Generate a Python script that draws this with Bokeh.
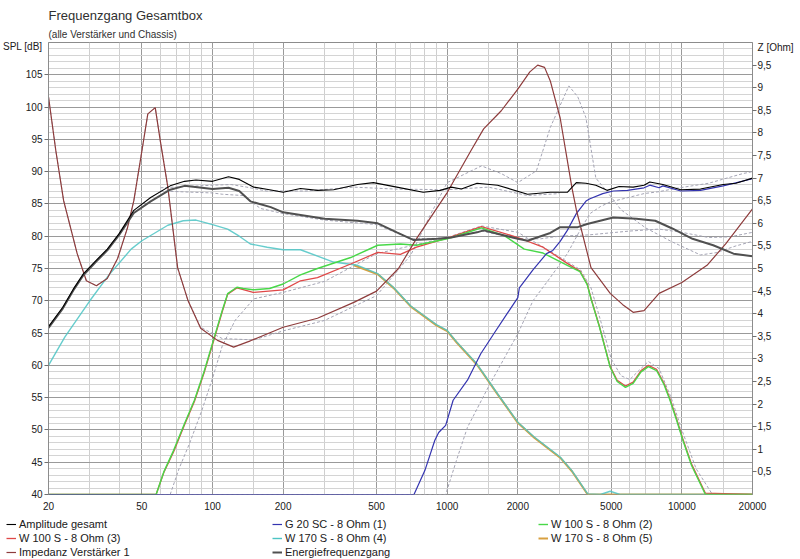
from bokeh.embed import file_html
from bokeh.models import (CustomJSTickFormatter, FixedTicker, Legend,
                          LegendItem, LinearAxis, PrintfTickFormatter, Range1d,
                          Title)
from bokeh.plotting import figure
from bokeh.resources import INLINE

# --- axis ticks -------------------------------------------------------------
freq_ticks = [20, 50, 100, 200, 500, 1000, 2000, 5000, 10000, 20000]
freq_minor = [30, 40, 60, 70, 80, 90, 150, 300, 400, 600, 700, 800, 900,
              1500, 3000, 4000, 6000, 7000, 8000, 9000, 15000]
spl_ticks = [40, 45, 50, 55, 60, 65, 70, 75, 80, 85, 90, 95, 100, 105]
spl_minor = list(range(40, 111))
z_ticks = [0.5, 1, 1.5, 2, 2.5, 3, 3.5, 4, 4.5, 5, 5.5, 6, 6.5, 7, 7.5, 8,
           8.5, 9, 9.5]

# --- Amplitude gesamt -------------------------------------------------------
amp_f = [20, 23, 25.5, 28.2, 32, 35.6, 40, 46.2, 54.5, 66, 76, 85, 100, 117,
         130, 150, 175, 200, 237, 280, 328, 415, 485, 610, 790, 935, 1040,
         1150, 1340, 1640, 2200, 2750, 3250, 3550, 3900, 4300, 4800, 5400,
         6200, 6900, 7300, 8300, 9900, 12000, 15000, 17000, 20000]
amp_v = [66.0, 69.0, 71.8, 74.2, 76.3, 78.0, 80.4, 84.0, 86.0, 87.8, 88.5,
         88.7, 88.5, 89.2, 88.8, 87.6, 87.2, 86.8, 87.4, 87.1, 87.2, 88.0,
         88.3, 87.6, 86.8, 87.1, 87.6, 87.3, 88.2, 87.9, 86.5, 86.8, 86.8,
         88.3, 88.2, 87.9, 87.1, 87.7, 87.6, 87.9, 88.4, 88.0, 87.2, 87.3,
         88.0, 88.2, 89.0]

# --- Energiefrequenzgang ----------------------------------------------------
en_f = [20, 23, 25.5, 28.2, 32, 35.6, 40, 46.2, 54.5, 66, 76, 100, 117, 130,
        145, 177, 200, 300, 415, 506, 610, 720, 910, 1040, 1340, 1430, 2000,
        2200, 2750, 3030, 3600, 3950, 5100, 6400, 7700, 9100, 11100, 13600,
        16600, 20000]
en_v = [65.8, 68.8, 71.6, 74.0, 76.1, 77.8, 80.2, 83.6, 85.4, 87.2, 87.8,
        87.3, 87.5, 87.0, 85.4, 84.5, 83.7, 82.7, 82.4, 82.0, 80.6, 79.4,
        79.6, 79.8, 80.6, 80.9, 79.6, 79.3, 80.5, 81.4, 81.4, 81.9, 82.9,
        82.7, 82.4, 81.2, 79.6, 78.6, 77.3, 76.9]

# --- G 20 SC - 8 Ohm (1) ----------------------------------------------------
tw_f = [20, 722, 803, 886, 920, 985, 1060, 1220, 1390, 1580, 1800, 2000,
        2030, 2320, 2650, 2820, 3030, 3250, 3550, 3920, 4060, 4600, 5100,
        5860, 6900, 7300, 8000, 8300, 9900, 12000, 15000, 20000]
tw_v = [40.0, 40.0, 43.7, 48.4, 49.6, 50.7, 54.6, 57.7, 61.8, 64.9, 68.0,
        70.5, 72.0, 74.8, 77.3, 77.8, 79.2, 80.9, 83.5, 85.5, 85.8, 86.6,
        87.0, 87.1, 87.5, 87.9, 87.5, 87.8, 87.0, 87.1, 87.8, 88.9]

# --- W 100 S - 8 Ohm (2) ----------------------------------------------------
w2_f = [20, 57.5, 62, 68.2, 76, 83.7, 92, 100.9, 110, 116, 127, 135, 149,
        175, 200, 237, 280, 388, 506, 632, 740, 1000, 1200, 1400, 1750, 2130,
        2560, 3250, 3680, 3950, 4100, 4450, 4950, 5300, 5750, 6200, 6700,
        7200, 7800, 8400, 8900, 9500, 10100, 11000, 12600, 20000]
w2_v = [40.0, 40.0, 43.5, 46.8, 51.0, 54.6, 59.0, 63.9, 68.5, 71.1, 72.1,
        71.9, 71.7, 71.9, 72.6, 74.0, 75.0, 76.7, 78.6, 78.8, 78.6, 79.6,
        80.5, 81.3, 80.1, 78.0, 77.4, 75.5, 74.5, 72.5, 70.3, 66.0, 59.7,
        57.5, 56.6, 57.2, 59.0, 59.8, 59.2, 57.0, 54.6, 51.5, 48.4, 44.5,
        40.0, 40.0]

# --- W 100 S - 8 Ohm (3) ----------------------------------------------------
w3_f = [20, 57.5, 62, 68.2, 76, 83.7, 92, 100.9, 110, 116, 127, 149, 200,
        237, 280, 388, 506, 632, 740, 1000, 1400, 2000, 2560, 3250, 3680,
        3950, 4100, 4450, 4950, 5300, 5750, 6200, 6700, 7200, 7800, 8400,
        8900, 9500, 10100, 11000, 12600, 20000]
w3_v = [40.0, 40.0, 43.4, 46.6, 50.8, 54.4, 58.8, 63.7, 68.3, 71.0, 72.0,
        71.3, 71.7, 73.1, 73.6, 75.7, 77.5, 77.2, 78.3, 79.7, 81.5, 79.8,
        78.3, 75.8, 74.6, 72.6, 70.4, 66.1, 59.8, 57.7, 56.8, 57.4, 59.2,
        60.0, 59.4, 57.2, 54.8, 51.7, 48.6, 44.7, 40.2, 40.0]

# --- W 170 S - 8 Ohm (4) ----------------------------------------------------
w4_f = [20, 23.5, 30, 36, 45, 50, 64.5, 75, 85, 100, 116, 130, 145, 171,
        200, 237, 328, 415, 506, 590, 700, 790, 900, 1000, 1100, 1340, 1640,
        2000, 2350, 3030, 3400, 3970, 4500, 4950, 5450, 20000]
w4_v = [60.0, 64.4, 70.0, 73.9, 78.0, 79.3, 81.7, 82.4, 82.5, 81.8, 81.1,
        80.0, 78.8, 78.3, 77.9, 77.9, 76.0, 75.5, 74.2, 72.1, 69.2, 67.8,
        66.3, 65.4, 63.6, 60.2, 55.6, 51.2, 48.9, 45.8, 43.7, 40.1, 40.0,
        40.5, 40.0, 40.0]

# --- W 170 S - 8 Ohm (5) ----------------------------------------------------
w5_f = [400, 506, 590, 700, 790, 900, 1000, 1100, 1340, 1640, 2000, 2350,
        3030, 3400, 3970, 4500, 20000]
w5_v = [75.5, 74.1, 72.0, 69.1, 67.7, 66.2, 65.3, 63.5, 60.1, 55.5, 51.1,
        48.8, 45.7, 43.6, 40.0, 40.0, 40.0]

# --- Impedanz Verstaerker 1 (Ohm) -------------------------------------------
imp_f = [20, 21.5, 23.2, 26.5, 29, 32, 35.6, 39.4, 43.4, 46.2, 50, 53, 57,
         60, 64.5, 71, 78.5, 89, 105, 123, 145, 200, 280, 400, 500, 620, 740,
         1000, 1260, 1430, 1700, 2000, 2250, 2430, 2600, 2750, 3030, 3400,
         3550, 4100, 4950, 5600, 6200, 6900, 8000, 10000, 12800, 15400,
         20000]
imp_v = [8.8, 7.6, 6.5, 5.33, 4.73, 4.62, 4.78, 5.22, 5.9, 6.5, 7.6, 8.42,
         8.56, 7.8, 6.8, 5.02, 4.3, 3.68, 3.41, 3.26, 3.4, 3.7, 3.9, 4.25,
         4.5, 5.0, 5.66, 6.68, 7.6, 8.09, 8.49, 8.97, 9.35, 9.5, 9.45, 9.15,
         8.33, 6.79, 6.3, 5.02, 4.45, 4.2, 4.03, 4.07, 4.45, 4.69, 5.07, 5.55,
         6.32]

# --- dashed comparison curves -----------------------------------------------
dimp_f = [20, 21.5, 23.2, 26.5, 29, 32, 35.6, 39.4, 43.4, 46.2, 50, 53, 57,
          60, 64.5, 71, 78.5, 89, 110, 150, 200, 300, 500, 700, 850, 1000,
          1400, 1700, 2000, 2400, 2750, 3300, 3600, 3900, 4300, 4800, 5500,
          7000, 9000, 12000, 14000, 17000, 20000]
dimp_v = [8.8, 7.6, 6.5, 5.33, 4.73, 4.62, 4.78, 5.22, 5.9, 6.5, 7.6, 8.42,
          8.56, 7.8, 6.8, 5.0, 4.3, 3.7, 3.45, 3.42, 3.62, 3.85, 4.4, 5.3,
          6.2, 6.9, 7.27, 7.1, 6.9, 7.16, 8.12, 9.04, 8.8, 8.34, 7.0, 6.7,
          6.3, 5.9, 5.6, 5.3, 5.35, 5.5, 5.6]

dtw_f = [20, 985, 1100, 1220, 1500, 2000, 2320, 2750, 3250, 3680, 4060, 4500,
         4950, 6900, 8000, 9400, 13000, 18200, 20000]
dtw_v = [40.0, 40.0, 45.5, 50.4, 56.7, 64.9, 70.0, 73.6, 77.3, 80.9, 83.5,
         84.6, 85.3, 86.6, 86.9, 87.4, 88.2, 89.7, 90.0]

dwf_f = [66, 72, 80, 90, 100, 110, 125, 150, 200, 300, 500, 700, 1000, 1400,
         2000, 2600, 3200, 3700, 4100, 4500, 5000, 5500, 6000, 6600, 7200,
         8000, 9000, 10000, 11500, 13500, 20000]
dwf_v = [40.0, 44.0, 48.0, 53.0, 58.0, 63.0, 67.0, 70.3, 71.3, 73.0, 77.3,
         78.5, 79.8, 81.6, 80.6, 78.2, 76.2, 74.8, 72.0, 67.0, 61.0, 58.4,
         57.8, 59.3, 60.6, 59.5, 55.0, 50.0, 44.0, 40.0, 40.0]

damp_f = [60, 100, 120, 140, 170, 250, 400, 600, 1000, 1500, 2200, 3000]
damp_v = [87.5, 87.9, 88.0, 87.6, 87.0, 87.0, 87.6, 87.3, 87.2, 87.6, 86.3,
          86.6]

den_f = [60, 100, 110, 135, 160, 200, 300, 500, 700, 1000, 1400, 2000, 2500,
         3000, 4000, 6000, 8000, 10000, 13000, 16000, 20000]
den_v = [87.0, 86.7, 86.5, 86.3, 84.3, 83.5, 82.5, 81.8, 79.6, 79.7, 80.8,
         79.6, 79.6, 80.0, 80.2, 80.8, 81.1, 80.6, 79.8, 79.9, 80.6]

FONT = "Liberation Sans"
TICK_GREY = "#707070"
# where the unit captions sit, just under the top edge of the frame
SPL_CAPTION_AT = 109.4
Z_CAPTION_AT = 9.9

p = figure(width=800, height=517, x_axis_type="log",
           x_range=Range1d(20, 20000), y_range=Range1d(40, 110),
           output_backend="svg", toolbar_location=None,
           min_border_left=48, min_border_right=48,
           min_border_top=42, min_border_bottom=23)
p.extra_y_ranges = {"z": Range1d(0, 10)}
p.background_fill_color = "white"
p.border_fill_color = "white"
p.outline_line_color = "#8c8c8c"

# titles: p.title is the outer one, the added one sits next to the frame
p.title.text = "Frequenzgang Gesamtbox"
p.title.text_font = FONT
p.title.text_font_size = "13px"
p.title.text_font_style = "normal"
p.title.text_color = "#303030"
p.title.align = "left"
p.title.standoff = 3
p.add_layout(Title(text="(alle Verst\u00e4rker und Chassis)", text_font=FONT,
                   text_font_size="10px", text_font_style="normal",
                   text_color="#303030", align="left", standoff=5), "above")

# x axis
p.xaxis.ticker = FixedTicker(ticks=freq_ticks, minor_ticks=freq_minor)
p.xaxis.formatter = PrintfTickFormatter(format="%d")
p.xaxis.major_tick_out = 0
p.xaxis.major_tick_in = 0
p.xaxis.minor_tick_out = 0
p.xaxis.minor_tick_in = 0
p.xaxis.axis_line_color = None
p.xaxis.major_label_standoff = 7

# left axis: labels on the 5 dB steps plus the unit caption at the top,
# the short tick marks come from the minor ticks
p.yaxis.ticker = FixedTicker(ticks=spl_ticks + [SPL_CAPTION_AT],
                             minor_ticks=spl_ticks)
p.yaxis.formatter = CustomJSTickFormatter(
    code="return tick > 108 ? 'SPL [dB]' : tick.toString();")
p.yaxis.major_tick_out = 0
p.yaxis.major_tick_in = 0
p.yaxis.minor_tick_out = 4
p.yaxis.minor_tick_in = 0
p.yaxis.minor_tick_line_color = TICK_GREY
p.yaxis.axis_line_color = "#8c8c8c"
p.yaxis.major_label_standoff = 2

# right axis (impedance)
zaxis = LinearAxis(y_range_name="z",
                   ticker=FixedTicker(ticks=z_ticks + [Z_CAPTION_AT],
                                      minor_ticks=z_ticks))
zaxis.formatter = CustomJSTickFormatter(
    code="return tick > 9.7 ? 'Z [Ohm]' : tick.toString().replace('.', ',');")
zaxis.major_tick_out = 0
zaxis.major_tick_in = 0
zaxis.minor_tick_out = 4
zaxis.minor_tick_in = 0
zaxis.minor_tick_line_color = TICK_GREY
zaxis.axis_line_color = "#8c8c8c"
zaxis.major_label_standoff = 1
p.add_layout(zaxis, "right")

for ax in p.xaxis + p.yaxis:
    ax.major_label_text_font = FONT
    ax.major_label_text_font_size = "10px"
    ax.major_label_text_color = "#202020"

# grid (own tickers, so the caption ticks leave no line)
p.ygrid.ticker = FixedTicker(ticks=spl_ticks, minor_ticks=spl_minor)
p.xgrid.grid_line_color = "#9a9a9a"
p.xgrid.minor_grid_line_color = "#cfcfcf"
p.ygrid.grid_line_color = "#9a9a9a"
p.ygrid.minor_grid_line_color = "#d4d4d4"

# dashed comparison curves
dash = dict(line_color="#a4a4b4", line_width=1, line_dash="3 2")
p.line(dimp_f, dimp_v, y_range_name="z", **dash)
p.line(dwf_f, dwf_v, **dash)
p.line(dtw_f, dtw_v, **dash)
p.line(damp_f, damp_v, **dash)
p.line(den_f, den_v, **dash)

styles = {
    "amp": dict(line_color="black", line_width=1.1),
    "tw": dict(line_color="#3434b0", line_width=1.2),
    "w2": dict(line_color="#48d848", line_width=1.4),
    "w3": dict(line_color="#e04848", line_width=1.3),
    "w4": dict(line_color="#4cc4c4", line_width=1.4),
    "w5": dict(line_color="#d8a040", line_width=2),
    "imp": dict(line_color="#8e3c3c", line_width=1.2),
    "en": dict(line_color="#505050", line_width=2),
}
curves = {
    "amp": (amp_f, amp_v), "tw": (tw_f, tw_v), "w2": (w2_f, w2_v),
    "w3": (w3_f, w3_v), "w4": (w4_f, w4_v), "w5": (w5_f, w5_v),
    "imp": (imp_f, imp_v), "en": (en_f, en_v),
}

# driver curves
p.line(w5_f, w5_v, **styles["w5"])
p.line(w4_f, w4_v, line_alpha=0.85, **styles["w4"])
p.line(w3_f, w3_v, **styles["w3"])
p.line(w2_f, w2_v, **styles["w2"])
p.line(tw_f, tw_v, **styles["tw"])
p.line(imp_f, imp_v, y_range_name="z", **styles["imp"])
p.line(en_f, en_v, **styles["en"])
p.line(amp_f, amp_v, **styles["amp"])

# legend strip under the chart: its own small figure whose ranges keep the
# curves out of sight, so only the legend swatches show
leg = figure(width=800, height=42, x_range=Range1d(0, 1),
             y_range=Range1d(0, 1), x_axis_location=None,
             y_axis_location=None, toolbar_location=None,
             output_backend="svg", min_border=0, min_border_left=0,
             min_border_right=0, min_border_top=0, min_border_bottom=0)
leg.outline_line_color = None
leg.grid.grid_line_color = None
leg.background_fill_color = "white"
leg.border_fill_color = "white"

labels = [
    ("Amplitude gesamt", "amp"),
    ("G 20 SC - 8 Ohm (1)", "tw"),
    ("W 100 S - 8 Ohm (2)", "w2"),
    ("W 100 S - 8 Ohm (3)", "w3"),
    ("W 170 S - 8 Ohm (4)", "w4"),
    ("W 170 S - 8 Ohm (5)", "w5"),
    ("Impedanz Verst\u00e4rker 1", "imp"),
    ("Energiefrequenzgang", "en"),
]
items = []
for text, key in labels:
    xs, ys = curves[key]
    r = leg.line(xs, ys, **styles[key])
    items.append(LegendItem(label=text, renderers=[r]))

legend = Legend(items=items, orientation="horizontal", ncols=3,
                location=(6, 0), glyph_width=10, glyph_height=14,
                label_height=14, label_width=253, label_standoff=3,
                spacing=0, padding=0, margin=0, border_line_color=None,
                background_fill_alpha=0, label_text_font=FONT,
                label_text_font_size="11px", label_text_color="#202020")
leg.add_layout(legend)

open("out.html", "w").write(file_html([p, leg], INLINE))
